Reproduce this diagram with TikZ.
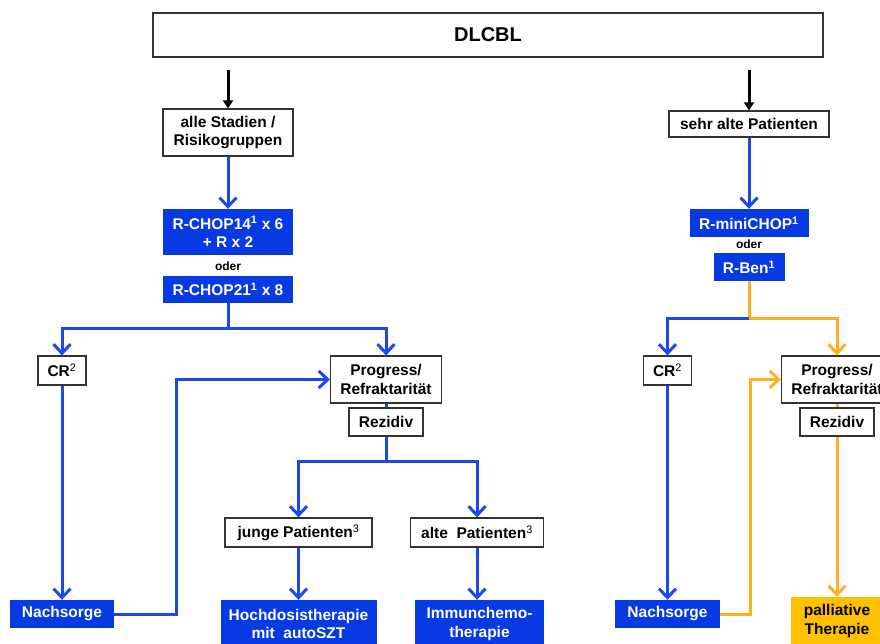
\documentclass[tikz,border=0pt]{standalone}
\usepackage{fontspec}
\setmainfont{Liberation Sans}
\usetikzlibrary{arrows.meta}
\definecolor{boxblue}{RGB}{8,58,228}
\definecolor{lineblue}{RGB}{28,72,238}
\definecolor{lineorange}{RGB}{255,176,32}
\definecolor{boxgold}{RGB}{255,192,0}
\newcommand{\sups}[1]{\textsuperscript{\normalfont\bfseries #1}}
\newcommand{\supn}[1]{\textsuperscript{\normalfont #1}}
\begin{document}
\begin{tikzpicture}[x=1pt, y=-1pt,
        every node/.style={font=\fontsize{15.5}{18.5}\selectfont\bfseries, align=center, inner sep=0pt},
        wbox/.style={rectangle, draw=black!80, line width=1.2pt, fill=white},
        bbox/.style={rectangle, fill=boxblue, text=white},
        gbox/.style={rectangle, fill=boxgold, text=black},
        blk/.style={line width=3pt, -{Triangle[length=8pt,width=10pt]}},
        bl/.style={draw=lineblue, line width=3pt},
        og/.style={draw=lineorange, line width=3pt},
        tip/.style={-{Straight Barb[length=9pt,width=17pt]}}]
        \useasboundingbox (0,0) rectangle (880,644);
        % \draw (0,0) grid (880,644);
        \node [wbox, minimum width=670pt, minimum height=44pt, font=\fontsize{20}{22}\selectfont\bfseries, name=dlcbl] at (488, 35) {DLCBL};
        \coordinate (top_l) at (228, 70);
        \coordinate (top_r) at (749, 70);

        % linker Zweig
        \node [wbox, minimum width=130pt, minimum height=47pt, name=alle] at (228, 132.5) {alle Stadien /\\Risikogruppen};
        \node [bbox, minimum width=130pt, minimum height=46pt, name=rchop14] at (228, 232) {R-CHOP14\sups{1} x 6\\+ R x 2};
        \node [font=\fontsize{12}{13}\selectfont\bfseries, name=oder_l] at (228, 266) {oder};
        \node [bbox, minimum width=130pt, minimum height=27pt, name=rchop21] at (228, 289.5) {R-CHOP21\sups{1} x 8};
        \coordinate (split_l) at (228, 328);
        \node [wbox, minimum width=48pt, minimum height=29pt, name=cr_l] at (62, 370.5) {CR\supn{2}};
        \node [wbox, minimum width=111pt, minimum height=47pt, name=prog_l] at (386, 379.5) {Progress/\\Refraktarität};
        \node [wbox, minimum width=74pt, minimum height=28pt, name=rez_l] at (386, 422) {Rezidiv};
        \coordinate (split_rez) at (386, 461);
        \node [wbox, minimum width=147pt, minimum height=29pt, name=junge] at (298.5, 532.5) {junge Patienten\supn{3}};
        \node [wbox, minimum width=133pt, minimum height=29pt, name=alte] at (477, 532.5) {alte\ \ Patienten\supn{3}};
        \node [bbox, minimum width=156pt, minimum height=48pt, name=hoch] at (298.5, 624) {Hochdosistherapie\\mit\ \ autoSZT};
        \node [bbox, minimum width=129pt, minimum height=48pt, name=immun] at (479.5, 624) {Immunchemo-\\therapie};
        \node [bbox, minimum width=104pt, minimum height=28pt, name=nach_l] at (62, 614) {Nachsorge};
        \coordinate (loop_l) at (176, 614);

        % rechter Zweig
        \node [wbox, minimum width=160pt, minimum height=26pt, name=sehr] at (749, 124) {sehr alte Patienten};
        \node [bbox, minimum width=119pt, minimum height=28pt, name=rmini] at (749, 223) {R-miniCHOP\sups{1}};
        \node [font=\fontsize{12}{13}\selectfont\bfseries, name=oder_r] at (749, 244) {oder};
        \node [bbox, minimum width=71pt, minimum height=28pt, name=rben] at (749, 267) {R-Ben\sups{1}};
        \coordinate (split_r) at (749, 318);
        \node [wbox, minimum width=48pt, minimum height=29pt, name=cr_r] at (667.5, 370.5) {CR\supn{2}};
        \node [wbox, minimum width=111pt, minimum height=47pt, name=prog_r] at (837, 379.5) {Progress/\\Refraktarität};
        \node [wbox, minimum width=74pt, minimum height=28pt, name=rez_r] at (837, 422) {Rezidiv};
        \node [bbox, minimum width=105pt, minimum height=28pt, name=nach_r] at (667.5, 614) {Nachsorge};
        \node [gbox, minimum width=92pt, minimum height=48pt, name=pall] at (837, 621) {palliative\\Therapie};
        \coordinate (loop_r) at (750, 614);

        \draw [blk] (top_l) -- (alle);
        \draw [blk] (top_r) -- (sehr);

        \draw [bl, tip] (alle) -- (rchop14);
        \draw [bl] (rchop21) -- (split_l);
        \draw [bl, tip] (split_l) -| (cr_l);
        \draw [bl, tip] (split_l) -| (prog_l);
        \draw [bl] (prog_l) -- (rez_l);
        \draw [bl] (rez_l) -- (split_rez);
        \draw [bl, tip] (split_rez) -| (junge);
        \draw [bl, tip] (split_rez) -| (alte);
        \draw [bl, tip] (junge) -- (hoch);
        \draw [bl, tip] (alte) -- (alte |- immun.north);
        \draw [bl, tip] (cr_l) -- (nach_l);
        \draw [bl, tip] (nach_l) -- (loop_l) |- (prog_l);

        \draw [bl, tip] (sehr) -- (rmini);
        \draw [og] (rben) -- (split_r);
        \draw [bl, tip] (split_r) -| (cr_r);
        \draw [og, tip] (split_r) -| (prog_r);
        \draw [og] (prog_r) -- (rez_r);
        \draw [og, tip] (rez_r) -- (pall);
        \draw [bl, tip] (cr_r) -- (nach_r);
        \draw [og, tip] (nach_r) -- (loop_r) |- (prog_r);
    \end{tikzpicture}
\end{document}
